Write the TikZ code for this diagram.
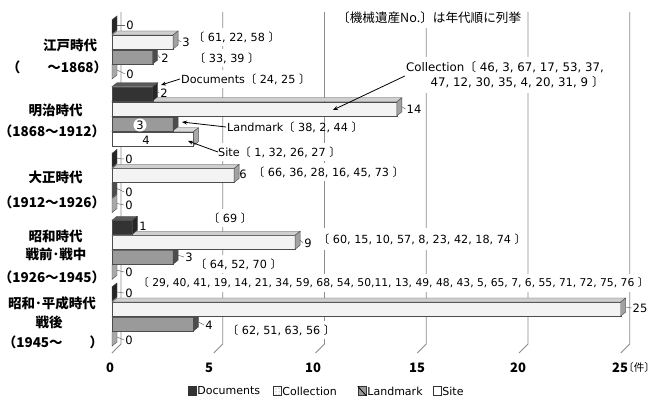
\documentclass[tikz,border=0pt]{standalone}
\usepackage{fontspec}
\setmainfont{DejaVu Sans}
\newfontfamily\jp{Noto Sans CJK JP}
\usetikzlibrary{arrows.meta,patterns}
\definecolor{docF}{HTML}{333333}
\definecolor{docT}{HTML}{5A5A5A}
\definecolor{docS}{HTML}{262626}
\definecolor{colF}{HTML}{F3F3F3}
\definecolor{colT}{HTML}{CFCFCF}
\definecolor{colS}{HTML}{A2A2A2}
\definecolor{lanF}{HTML}{9A9A9A}
\definecolor{lanT}{HTML}{BEBEBE}
\definecolor{lanS}{HTML}{4C4C4C}
\definecolor{sitF}{HTML}{FFFFFF}
\definecolor{sitT}{HTML}{D9D9D9}
\definecolor{sitS}{HTML}{A8A8A8}
\newcommand\lb{{\jp 〔}}
\newcommand\rb{{\jp 〕}}
\newcommand\labf{\fontsize{11.2}{14}\selectfont}
\newcommand\valf{\fontsize{11.5}{13}\selectfont}
\newcommand\ylabf{\jp\bfseries\fontsize{13.5}{15}\selectfont}
\newcommand\tickf{\jp\bfseries\fontsize{13}{15}\selectfont}
\newcommand\legf{\fontsize{11}{13}\selectfont}
% #1 ytop, #2 value, #3 front, #4 top, #5 side, #6 name of bar-end coordinate
\newcommand\mybar[6]{%
  \pgfmathsetmacro\xe{112+20.35*(#2)}%
  \pgfmathsetmacro\yb{#1+14}%
  \pgfmathsetmacro\yu{#1-4}%
  \pgfmathsetmacro\ybu{#1+10}%
  \pgfmathsetmacro\xs{\xe+5}%
  \pgfmathsetmacro\ym{#1+5}%
  \filldraw[barline,fill=#3] (112,#1) rectangle (\xe,\yb);
  \filldraw[barline,fill=#4] (112,#1) -- (117,\yu) -- (\xs,\yu) -- (\xe,#1) -- cycle;
  \filldraw[barline,fill=#5] (\xe,#1) -- (\xs,\yu) -- (\xs,\ybu) -- (\xe,\yb) -- cycle;
  \coordinate (#6) at (\xs,\ym);
}
\begin{document}
\begin{tikzpicture}[x=1pt,y=-1pt,
  barline/.style={draw=black!70, line width=0.4pt},
  grid/.style={draw=black!45, line width=0.9pt},
  leader/.style={draw=black!60, line width=0.5pt},
  callout/.style={draw=black, line width=0.8pt, -{Stealth[length=5pt,width=4pt]}},
  blab/.style={font=\labf, fill=white, inner xsep=1pt, inner ysep=4pt, anchor=west},
  plab/.style={font=\labf, inner xsep=1pt, inner ysep=1pt, anchor=west},
  vlab/.style={font=\valf, inner sep=1pt},
  ylab/.style={font=\ylabf, inner sep=0pt},
  tick/.style={font=\tickf, inner sep=0pt},
  swatch/.style={draw=black!80, line width=0.5pt, minimum width=8pt, minimum height=9pt, inner sep=0pt},
  legtext/.style={font=\legf, inner sep=1pt, anchor=west},
]
\useasboundingbox (0,0) rectangle (659,401);
\fill[white] (0,0) rectangle (659,401);

% ---------- grid (floor diagonals + back verticals)
\foreach \i in {0,...,5}{
  \pgfmathsetmacro\fx{112+101.75*\i}
  \pgfmathsetmacro\bx{\fx+9}
  \draw[grid] (\fx,353) -- (\bx,344) -- (\bx,12);
}

% ---------- white-backed bracket labels
\node[blab] (note) at (336,18) {\jp\fontsize{12.6}{14}\selectfont 〔機械遺産No.〕は年代順に列挙};
\node[blab] (l61) at (192,37) {\lb\ 61, 22, 58 \rb};
\node[blab] (l33) at (193,58) {\lb\ 33, 39 \rb};
\node[blab] (docl) at (180,79) {Documents\lb\ 24, 25 \rb};
\node[blab, anchor=east, align=right, inner ysep=5pt, font=\fontsize{11.8}{15}\selectfont] (coll) at (605,75) {Collection\lb\ 46, 3, 67, 17, 53, 37,\\47, 12, 30, 35, 4, 20, 31, 9 \rb};
\node[blab] (sitel) at (217,152) {Site\lb\ 1, 32, 26, 27 \rb};
\node[blab] (l66) at (252,172) {\lb\ 66, 36, 28, 16, 45, 73 \rb};
\node[blab] (l69) at (207,218) {\lb\ 69 \rb};
\node[blab, inner ysep=6pt] (l60) at (317,239) {\lb\ 60, 15, 10, 57, 8, 23, 42, 18, 74 \rb};
\node[blab] (l64) at (194,264) {\lb\ 64, 52, 70 \rb};
\node[blab, font=\fontsize{10.75}{13}\selectfont] (l29) at (137,283) {\lb\ 29, 40, 41, 19, 14, 21, 34, 59, 68, 54, 50,11, 13, 49, 48, 43, 5, 65, 7, 6, 55, 71, 72, 75, 76 \rb};
\node[blab] (l62) at (226,330) {\lb\ 62, 51, 63, 56 \rb};
\node[plab] (landl) at (226,127) {Landmark\lb\ 38, 2, 44 \rb};

% ---------- bars (drawn bottom to top)
% 1945-
\mybar{332}{0}{sitF}{sitT}{sitS}{e43}
\mybar{317}{4}{lanF}{lanT}{lanS}{e42}
\mybar{302}{25}{colF}{colT}{colS}{e41}
\mybar{287}{0}{docF}{docT}{docS}{e40}
% 1926-1945
\mybar{265.25}{0}{sitF}{sitT}{sitS}{e33}
\mybar{250.25}{3}{lanF}{lanT}{lanS}{e32}
\mybar{235.25}{9}{colF}{colT}{colS}{e31}
\mybar{220.25}{1}{docF}{docT}{docS}{e30}
% 1912-1926
\mybar{198.5}{0}{sitF}{sitT}{sitS}{e23}
\mybar{183.5}{0}{lanF}{lanT}{lanS}{e22}
\mybar{168.5}{6}{colF}{colT}{colS}{e21}
\mybar{153.5}{0}{docF}{docT}{docS}{e20}
% 1868-1912
\mybar{131.75}{4}{sitF}{sitT}{sitS}{e13}
\mybar{116.75}{3}{lanF}{lanT}{lanS}{e12}
\mybar{101.75}{14}{colF}{colT}{colS}{e11}
\mybar{86.75}{2}{docF}{docT}{docS}{e10}
% -1868
\mybar{65}{0}{sitF}{sitT}{sitS}{e03}
\mybar{50}{2}{lanF}{lanT}{lanS}{e02}
\mybar{35}{3}{colF}{colT}{colS}{e01}
\mybar{20}{0}{docF}{docT}{docS}{e00}

% ---------- value labels with leaders
\foreach \n/\x/\y/\t in {
  v00/130/25/0, v01/186/42/3, v02/165/58/2, v03/130/74/0,
  v10/164/93/2, v11/414/109/14,
  v20/129/159/0, v21/243/174/6, v22/129/192/0, v23/129/205/0,
  v30/143/226/1, v31/308/243/9, v32/189/257/3, v33/129/272/0,
  v40/129/293/0, v41/640/308/25, v42/209/325/4, v43/129/340/0}{
  \node[vlab] (\n) at (\x,\y) {\t};
}
\foreach \e/\n in {e00/v00,e01/v01,e02/v02,e03/v03,e10/v10,e11/v11,
  e20/v20,e21/v21,e22/v22,e23/v23,e30/v30,e31/v31,e32/v32,e33/v33,
  e40/v40,e41/v41,e42/v42,e43/v43}{
  \draw[leader] (\e) -- (\n.west);
}
\node[vlab, circle, fill=white, inner sep=0.6pt] (v12) at (140,125) {3};
\node[vlab] (v13) at (146,140) {4};

% ---------- callout arrows
\coordinate (tipDoc) at (161,85);
\coordinate (tipCol) at (333,110);
\coordinate (tipLan) at (182,122);
\coordinate (tipSit) at (188,141);
\draw[callout] (docl.west) -- (tipDoc);
\draw[callout] ([yshift=-1pt]coll.west) -- (tipCol);
\draw[callout] (landl.west) -- (tipLan);
\draw[callout] ([xshift=1pt]sitel.west) -- (tipSit);

% ---------- category labels
\node[ylab] (edo) at (70,45) {江戸時代};
\node[ylab] (edoy) at (57,67) {（　　～1868）};
\node[ylab] (mei) at (55.5,110) {明治時代};
\node[ylab] (meiy) at (52,131) {（1868～1912）};
\node[ylab] (tai) at (55.5,177) {大正時代};
\node[ylab] (taiy) at (52,202) {（1912～1926）};
\node[ylab] (sho) at (55.5,236) {昭和時代};
\node[ylab] (shob) at (56,254) {戦前･戦中};
\node[ylab] (shoy) at (52,277) {（1926～1945）};
\node[ylab] (hei) at (52,303) {昭和･平成時代};
\node[ylab] (heib) at (49,322) {戦後};
\node[ylab] (heiy) at (53,342) {（1945～　　）};

% ---------- axis tick labels
\node[tick] (t0) at (110,368) {0};
\node[tick] (t5) at (209,368) {5};
\node[tick] (t10) at (313,368) {10};
\node[tick] (t15) at (417,368) {15};
\node[tick] (t20) at (518,368) {20};
\node[tick] (t25) at (620,368) {25};
\node[font=\jp\fontsize{10.5}{13}\selectfont, inner sep=0pt, anchor=west] (unit) at ([xshift=-5pt]t25.east) {〔件〕};

% ---------- legend
\node[swatch, fill=docF] (s1) at (192,391) {};
\node[legtext] (g1) at (s1.east) {Documents};
\node[swatch, fill=colF, pattern=dots, pattern color=black!60] (s2) at (277,391) {};
\node[legtext] (g2) at (s2.east) {Collection};
\node[swatch, fill=lanF] (s3) at (362,391) {};
\draw[black, line width=0.8pt] (s3.north west) -- (s3.south east);
\node[legtext] (g3) at (s3.east) {Landmark};
\node[swatch, fill=white] (s4) at (437,391) {};
\node[legtext] (g4) at (s4.east) {Site};
\end{tikzpicture}
\end{document}
